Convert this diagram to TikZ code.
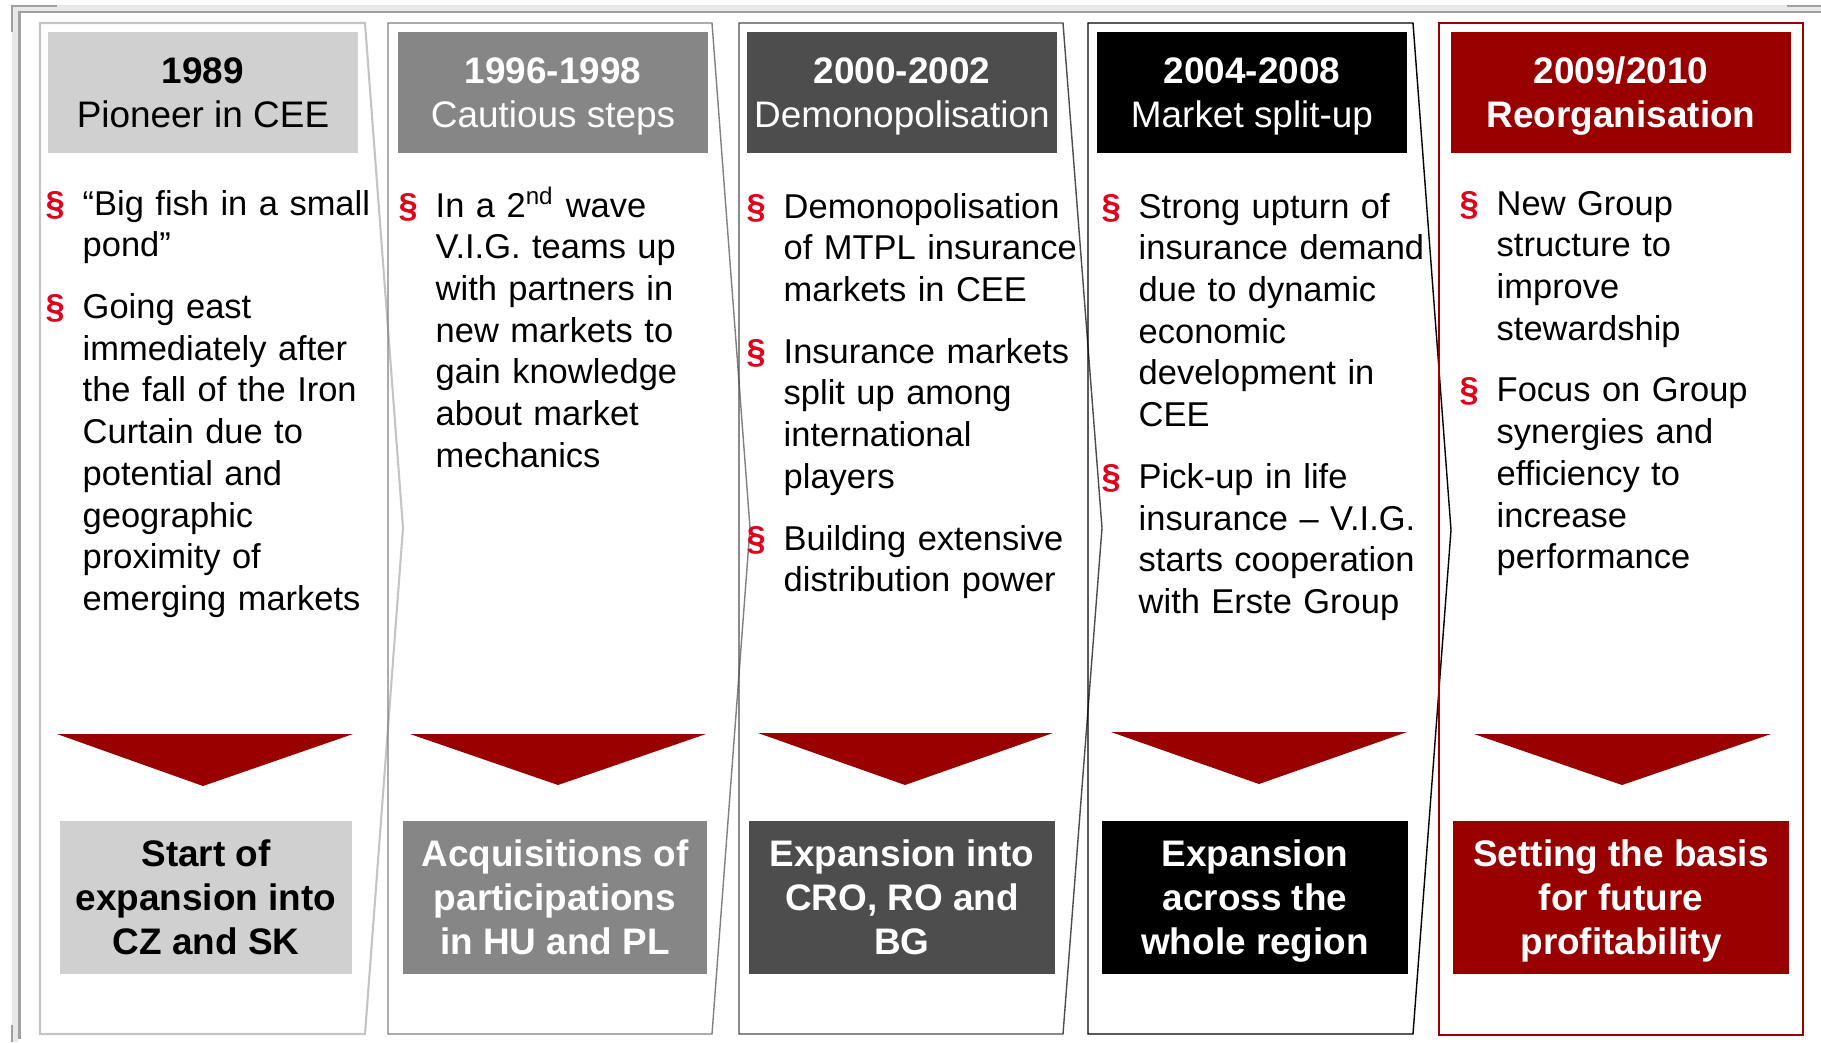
\documentclass[tikz,border=0pt]{standalone}
\usepackage{fontspec}
\setmainfont{Liberation Sans}

\definecolor{shadeA}{HTML}{D0D0D0}
\definecolor{shadeB}{HTML}{868686}
\definecolor{shadeC}{HTML}{4D4D4D}
\definecolor{vigred}{HTML}{990000}
\definecolor{bulletred}{HTML}{E2001A}
\definecolor{framelight}{HTML}{E8E8E8}
\definecolor{framegray}{HTML}{A0A0A0}

\newcommand{\bodyfont}{\fontsize{9.8pt}{11.86pt}\selectfont}
\newcommand{\boxfont}{\fontsize{10.5pt}{12.5pt}\selectfont}
\newcommand{\hstrut}{\rule{0pt}{11.3pt}}
\newlength{\pind}\setlength{\pind}{0.37cm}
\newcommand{\pitem}[1]{\hangindent=\pind\hangafter=1\makebox[\pind][l]{\textcolor{bulletred}{\bfseries §}}#1\par\vspace{5.7pt}}

\tikzset{
  headbox/.style={rectangle, minimum height=1.21cm, inner sep=0pt, align=center, font=\boxfont},
  resultbox/.style={rectangle, minimum height=1.53cm, inner sep=0pt, align=center, font=\boxfont\bfseries},
  bullets/.style={anchor=base west, inner sep=0pt, text width=3.6cm, font=\bodyfont},
  droparrow/.style={fill=vigred}
}

\begin{document}
\begin{tikzpicture}[x=0.01cm, y=-0.01cm]
\useasboundingbox (0,0) rectangle (1821,1042);

\fill[framelight] (12,5) rectangle (1821,11);
\fill[framelight] (12,5) rectangle (18,1042);
\draw[framegray, line width=0.02cm] (19.5,1039) -- (19.5,12) -- (1821,12);
\draw[framegray, line width=0.02cm] (12,32) -- (12,6) -- (57,6);
\draw[framegray, line width=0.02cm] (1787,6) -- (1821,6);
\draw[framegray, line width=0.02cm] (12,1025) -- (12,1042);

\draw[shadeA!85!gray, line width=0.6pt] (40,23) -- (365,23) -- (403,528) -- (365,1034) -- (40,1034) -- cycle;
\draw[gray, line width=0.4pt] (388,23) -- (712,23) -- (750,528) -- (712,1034) -- (388,1034) -- cycle;
\draw[shadeC, line width=0.4pt] (739,23) -- (1063,23) -- (1102,528) -- (1063,1034) -- (739,1034) -- cycle;
\draw[black, line width=0.4pt] (1088,23) -- (1413,23) -- (1451,530) -- (1413,1034) -- (1088,1034) -- cycle;
\draw[vigred, line width=0.7pt] (1439,23) rectangle (1803,1035);

\node[headbox, fill=shadeA, text=black, minimum width=3.1cm] (h1) at (203,92.5) {\hstrut\textbf{1989}\\\strut Pioneer in CEE};
\node[headbox, fill=shadeB, text=white, minimum width=3.1cm] (h2) at (553,92.5) {\hstrut\textbf{1996-1998}\\\strut Cautious steps};
\node[headbox, fill=shadeC, text=white, minimum width=3.1cm] (h3) at (902,92.5) {\hstrut\textbf{2000-2002}\\\strut Demonopolisation};
\node[headbox, fill=black, text=white, minimum width=3.1cm] (h4) at (1252,92.5) {\hstrut\textbf{2004-2008}\\\strut Market split-up};
\node[headbox, fill=vigred, text=white, minimum width=3.4cm, font=\boxfont\bfseries] (h5) at (1621,92.5) {\hstrut 2009/2010\\\strut Reorganisation};

\node[bullets] (b1) at (45,215) {\pitem{“Big fish in a small\newline pond”}\pitem{Going east\newline immediately after\newline the fall of the Iron\newline Curtain due to\newline potential and\newline geographic\newline proximity of\newline emerging markets}};
\node[bullets] (b2) at (398,217) {\pitem{In a 2\textsuperscript{nd} wave\newline V.I.G. teams up\newline with partners in\newline new markets to\newline gain knowledge\newline about market\newline mechanics}};
\node[bullets] (b3) at (746,218) {\pitem{Demonopolisation\newline of MTPL insurance\newline markets in CEE}\pitem{Insurance markets\newline split up among\newline international\newline players}\pitem{Building extensive\newline distribution power}};
\node[bullets] (b4) at (1101,218) {\pitem{Strong upturn of\newline insurance demand\newline due to dynamic\newline economic\newline development in\newline CEE}\pitem{Pick-up in life\newline insurance – V.I.G.\newline starts cooperation\newline with Erste Group}};
\node[bullets] (b5) at (1459,215) {\pitem{New Group\newline structure to\newline improve\newline stewardship}\pitem{Focus on Group\newline synergies and\newline efficiency to\newline increase\newline performance}};

\fill[droparrow] (57,734) -- (353,734) -- (203,786) -- cycle;
\fill[droparrow] (410,734) -- (706,734) -- (558,785) -- cycle;
\fill[droparrow] (758,733) -- (1053,733) -- (905,785) -- cycle;
\fill[droparrow] (1111,732) -- (1407,732) -- (1259,784) -- cycle;
\fill[droparrow] (1474,734) -- (1771,734) -- (1622,785) -- cycle;

\node[resultbox, fill=shadeA, text=black, minimum width=2.92cm] (r1) at (206,897.5) {\hstrut Start of\\\strut expansion into\\\strut CZ and SK};
\node[resultbox, fill=shadeB, text=white, minimum width=3.04cm] (r2) at (555,897.5) {\hstrut Acquisitions of\\\strut participations\\\strut in HU and PL};
\node[resultbox, fill=shadeC, text=white, minimum width=3.05cm] (r3) at (902,897.5) {\hstrut Expansion into\\\strut CRO, RO and\\\strut BG};
\node[resultbox, fill=black, text=white, minimum width=3.05cm] (r4) at (1255,897.5) {\hstrut Expansion\\\strut across the\\\strut whole region};
\node[resultbox, fill=vigred, text=white, minimum width=3.36cm] (r5) at (1621,897.5) {\hstrut Setting the basis\\\strut for future\\\strut profitability};
\end{tikzpicture}
\end{document}
